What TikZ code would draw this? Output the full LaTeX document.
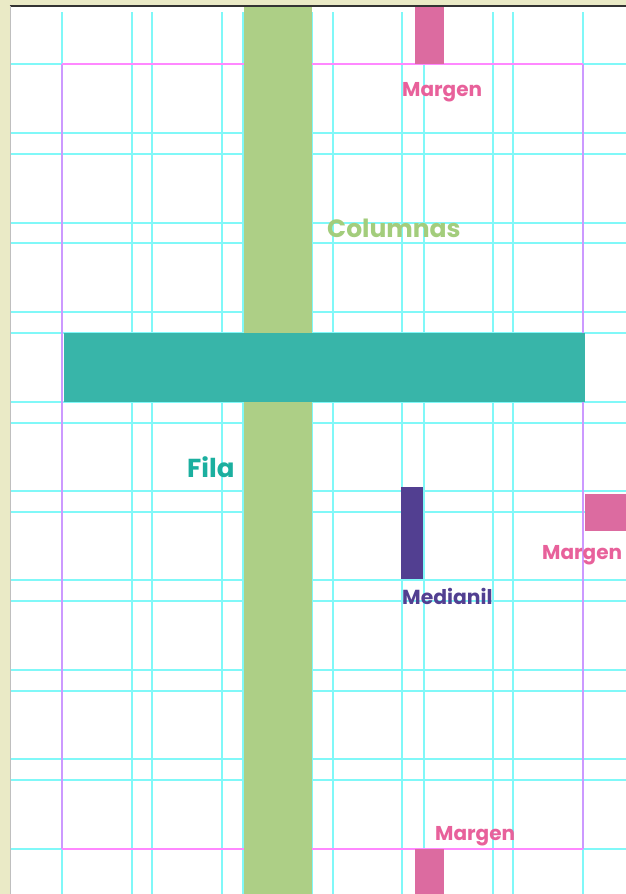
\documentclass[tikz,border=0pt]{standalone}
\usepackage{fontspec}
\setmainfont{Poppins}
\definecolor{beige}{HTML}{EAEAC6}
\definecolor{gridc}{HTML}{80F8F8}
\definecolor{marm}{HTML}{FF88FF}
\definecolor{marv}{HTML}{CC99FF}
\definecolor{colg}{HTML}{ADCF86}
\definecolor{rowt}{HTML}{38B5A9}
\definecolor{pinkf}{HTML}{DC6BA0}
\definecolor{pinkt}{HTML}{E8619B}
\definecolor{medp}{HTML}{523F91}
\definecolor{colt}{HTML}{A3CD7C}
\definecolor{rowtxt}{HTML}{1BAF9F}
\tikzset{
  gridline/.style={draw=gridc,line width=1.5pt},
  lbl/.style={anchor=base west,inner sep=0pt,font=\bfseries},
}
\begin{document}
\begin{tikzpicture}[x=1pt,y=-1pt]
\useasboundingbox (0,0) rectangle (626,894);
\fill[white] (0,0) rectangle (626,894);
% frame
\fill[beige] (0,0) rectangle (626,5.5);
\fill[beige] (0,0) rectangle (9.5,894);
\draw[black!80,line width=1.2pt] (9.5,6) -- (626,6);
\draw[black!25,line width=1pt] (10,6) -- (10,894);
% vertical grid lines
\foreach \x in {62,132,152,222,243,312,333,402,424,493,513,583}
  \draw[gridline] (\x,12) -- (\x,894);
% horizontal grid lines
\foreach \y in {64,133,154,223,243,312,333,402,423,491,512,580,601,670,691,759,780,849}
  \draw[gridline] (10.5,\y) -- (626,\y);
% margins
\draw[marv,line width=1.5pt] (62,64) -- (62,849) (583,64) -- (583,849);
\draw[marm,line width=1.5pt] (62,64) -- (583,64) (62,849) -- (583,849);
% column
\fill[colg] (243.5,6.8) rectangle (312,894);
% row
\fill[rowt] (64,333) rectangle (585,402);
% margins blocks
\fill[pinkf] (415,6.8) rectangle (444,64);
\fill[pinkf] (585,494) rectangle (626,531);
\fill[pinkf] (415,849) rectangle (444,894);
% gutter
\fill[medp] (401,487) rectangle (423,579);
% labels
\node[lbl,text=pinkt,font=\bfseries\fontsize{20}{21}\selectfont] (m1) at (402,96) {Margen};
\node[lbl,text=colt,font=\bfseries\fontsize{25}{26}\selectfont] (col) at (327,237) {Columnas};
\node[lbl,text=rowtxt,font=\bfseries\fontsize{26}{27}\selectfont] (fila) at (187,477) {Fila};
\node[lbl,text=pinkt,font=\bfseries\fontsize{20}{21}\selectfont] (m2) at (542,559) {Margen};
\node[lbl,text=medp,font=\bfseries\fontsize{20.3}{21}\selectfont] (med) at (402,604) {Medianil};
\node[lbl,text=pinkt,font=\bfseries\fontsize{20}{21}\selectfont] (m3) at (435,840) {Margen};
\end{tikzpicture}
\end{document}
